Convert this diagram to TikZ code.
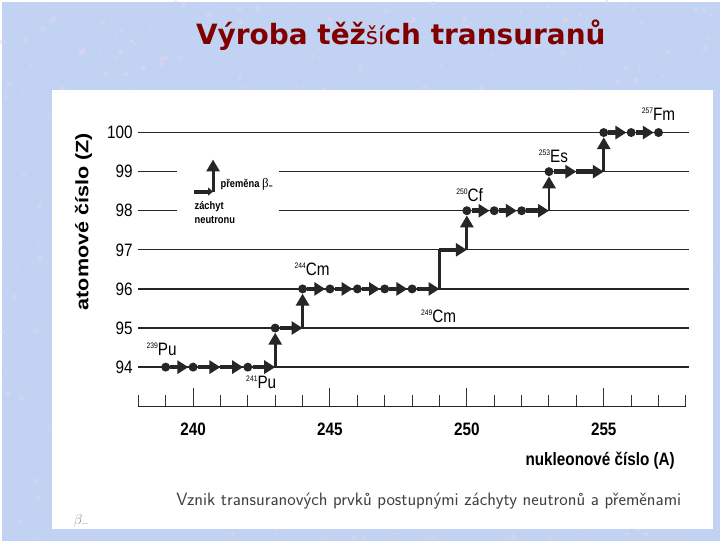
\documentclass[tikz,border=0pt]{standalone}
\usepackage{fontspec}
\usetikzlibrary{arrows.meta}
\newfontfamily\grafpismo[FakeStretch=0.85]{Liberation Sans}
\newfontfamily\osapismo{Liberation Sans}
\newfontfamily\nadpispismo{DejaVu Sans}
\definecolor{pozadi}{RGB}{194,210,242}
\definecolor{skvrna}{RGB}{222,214,240}
\definecolor{tmavocervena}{RGB}{128,0,0}
\newcommand{\izotop}[2]{{\fontsize{8}{8}\selectfont\raisebox{7pt}{#1}}#2}

\begin{document}
\begin{tikzpicture}[x=1pt, y=1pt,
    hladina/.style={line width=1.3pt, black!85},
    zachyt/.style={line width=4.5pt, black!85, -{Triangle[length=11pt, width=13pt]}},
    premena/.style={line width=3pt, black!85, -{Triangle[length=12pt, width=13pt]}},
    jadro/.style={circle, fill=black!85, inner sep=0pt, minimum size=9pt},
    cislo/.style={font=\grafpismo\fontsize{18}{18}\selectfont, anchor=east, inner sep=0pt},
    znacka/.style={font=\grafpismo\fontsize{18}{18}\selectfont, inner sep=0pt},
    osa/.style={font=\grafpismo\bfseries\fontsize{18}{18}\selectfont, inner sep=0pt},
    legenda/.style={font=\grafpismo\bfseries\fontsize{11}{14}\selectfont, anchor=west, inner sep=0pt},
]

\fill[pozadi] (0,0) rectangle (720,540);
\pgfmathsetseed{42}
\foreach \i in {1,...,700}
  \fill[skvrna, opacity=0.55] ({rnd*720},{rnd*540}) circle ({0.8+rnd*2.2});
\fill[white] (50,12) rectangle (713,452);

\node (nadpis) at (400,507) {\nadpispismo\bfseries\fontsize{28}{28}\selectfont\color{tmavocervena}Výroba těž{\mdseries\fontsize{23.5}{23.5}\selectfont ší}ch transuranů};

\begin{scope}[x=27.45pt, y=39.2pt, shift={(-6396.3pt,-3510.8pt)}]

% hladiny Z
\foreach \z in {94,95,96,97,100}
  \draw[hladina] (238.0,\z) -- (258.1,\z);
\foreach \z in {98,99} {
  \draw[hladina] (238.0,\z) -- (239.4,\z);
  \draw[hladina] (243.14,\z) -- (258.1,\z);
}
\foreach \z in {94,...,100}
  \node[cislo] (z\z) at (237.8,\z) {\z};
\node[osa, rotate=90] (osaZ) at (236.0,97.72) {\scalebox{1.2}[1]{\osapismo atomové číslo (Z)}};

% osa A
\draw[line width=1.2pt, black!85] (238,93) -- (258,93);
\foreach \a in {238,...,258}
  \draw[line width=1pt, black!80] (\a,93) -- (\a,93.3);
\foreach \a in {240,245,250,255} {
  \draw[line width=1pt, black!80] (\a,93) -- (\a,93.47);
  \node[osa] (a\a) at (\a,92.42) {\a};
}
\node[osa] (osaA) at (254.87,91.6) {nukleonové číslo (A)};

% legenda
\coordinate (legA) at (240.05,98.49);
\coordinate (legB) at (240.73,98.49);
\coordinate (legC) at (240.73,99.31);
\draw[line width=4pt, black!85, -{Triangle[length=5pt, width=8pt]}] (legA) -- (legB);
\draw[premena] (legB) -- (legC);
\node[legenda] (legpremena) at (241.0,98.67) {přeměna {\fontspec{Liberation Serif}\mdseries\fontsize{13}{13}\selectfont β\raisebox{-2pt}{-}}};
\node[legenda, align=left, anchor=north west] (legzachyt) at (240.05,98.25) {záchyt\\neutronu};

% jadra
\node[jadro] (pu239) at (239,94) {};
\node[jadro] (pu240) at (240,94) {};
\coordinate (pu241) at (241,94);
\node[jadro] (pu242) at (242,94) {};
\coordinate (pu243) at (243,94);
\node[jadro] (am243) at (243,95) {};
\coordinate (am244) at (244,95);
\foreach \a in {244,...,248}
  \node[jadro] (cm\a) at (\a,96) {};
\coordinate (cm249) at (249,96);
\coordinate (bk249) at (249,97);
\coordinate (bk250) at (250,97);
\foreach \a in {250,251,252}
  \node[jadro] (cf\a) at (\a,98) {};
\coordinate (cf253) at (253,98);
\node[jadro] (es253) at (253,99) {};
\coordinate (es254) at (254,99);
\coordinate (es255) at (255,99);
\foreach \a in {255,256,257}
  \node[jadro] (fm\a) at (\a,100) {};

% zachyty a premeny
\draw[zachyt] (pu239) -- (pu240);
\draw[zachyt] (pu240) -- (pu241);
\draw[zachyt] (pu241) -- (pu242);
\draw[zachyt] (pu242) -- (pu243);
\draw[premena] (pu243) -- (am243);
\draw[zachyt] (am243) -- (am244);
\draw[premena] (am244) -- (cm244);
\foreach \a/\b in {244/245,245/246,246/247,247/248,248/249}
  \draw[zachyt] (cm\a) -- (cm\b);
\draw[premena, -] (cm249) -- (bk249);
\draw[zachyt] (bk249) -- (bk250);
\draw[premena] (bk250) -- (cf250);
\draw[zachyt] (cf250) -- (cf251);
\draw[zachyt] (cf251) -- (cf252);
\draw[zachyt] (cf252) -- (cf253);
\draw[premena] (cf253) -- (es253);
\draw[zachyt] (es253) -- (es254);
\draw[zachyt] (es254) -- (es255);
\draw[premena] (es255) -- (fm255);
\draw[zachyt] (fm255) -- (fm256);
\draw[zachyt] (fm256) -- (fm257);

% popisy jader
\node[znacka] (tPu239) at (238.85,94.46) {\izotop{239}{Pu}};
\node[znacka] (tPu241) at (242.49,93.62) {\izotop{241}{Pu}};
\node[znacka] (tCm244) at (244.35,96.5) {\izotop{244}{Cm}};
\node[znacka] (tCm249) at (248.97,95.3) {\izotop{249}{Cm}};
\node[znacka] (tCf250) at (250.1,98.41) {\izotop{250}{Cf}};
\node[znacka] (tEs253) at (253.16,99.38) {\izotop{253}{Es}};
\node[znacka] (tFm257) at (257.0,100.48) {\izotop{257}{Fm}};

\end{scope}

\node[font=\sffamily\fontsize{18}{18}\selectfont, text=black!75] (vznik) at (428,40) {Vznik transuranových prvků postupnými záchyty neutronů a přeměnami};
\node[font=\fontsize{14}{14}\selectfont, text=black!45] (zbytek) at (80,20) {$\beta_{-}$};

\end{tikzpicture}
\end{document}
